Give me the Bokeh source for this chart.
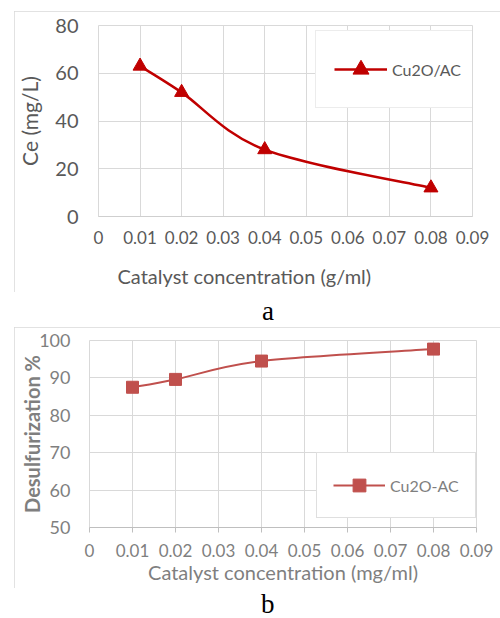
from bokeh.plotting import figure
from bokeh.models import Legend, LegendItem, Div, FixedTicker, Title
from bokeh.embed import file_html
from bokeh.resources import INLINE

# ---- data ----
conc = [0.01, 0.02, 0.04, 0.08]
ce_values = [63, 52, 28, 12]
desulf_values = [87.5, 89.6, 94.5, 97.7]
x_ticks = [0, 0.01, 0.02, 0.03, 0.04, 0.05, 0.06, 0.07, 0.08, 0.09]
x_tick_labels = ["0", "0.01", "0.02", "0.03", "0.04", "0.05", "0.06", "0.07", "0.08", "0.09"]
ce_ticks = [0, 20, 40, 60, 80]
desulf_ticks = [50, 60, 70, 80, 90, 100]


def smooth(xs, ys):
    """Catmull-Rom style cubic Bezier segments through the data points (like Excel's smoothed line)."""
    n = len(xs)
    out = dict(x0=[], y0=[], x1=[], y1=[], cx0=[], cy0=[], cx1=[], cy1=[])
    for i in range(n - 1):
        im = max(i - 1, 0)
        ip = min(i + 2, n - 1)
        out["x0"].append(xs[i]); out["y0"].append(ys[i])
        out["x1"].append(xs[i + 1]); out["y1"].append(ys[i + 1])
        out["cx0"].append(xs[i] + (xs[i + 1] - xs[im]) / 6)
        out["cy0"].append(ys[i] + (ys[i + 1] - ys[im]) / 6)
        out["cx1"].append(xs[i + 1] - (xs[ip] - xs[i]) / 6)
        out["cy1"].append(ys[i + 1] - (ys[ip] - ys[i]) / 6)
    return out


FONT = "Lato"
GRID = "#d9d9d9"
NAN = float("nan")
overrides = {t: l for t, l in zip(x_ticks, x_tick_labels)}

# ---------------- chart a ----------------
p1 = figure(width=486, height=281, x_range=(0, 0.09), y_range=(0, 80),
            output_backend="svg", toolbar_location=None,
            min_border_left=83, min_border_right=28, min_border_top=14, min_border_bottom=76,
            margin=(11, 0, 0, 14), background_fill_color="white", border_fill_color="white")
p1.styles = {"outline": "1px solid #d9d9d9", "outline-offset": "-1px"}
p1.outline_line_color = GRID

p1.xaxis.ticker = FixedTicker(ticks=x_ticks)
p1.xaxis.major_label_overrides = overrides
p1.xgrid.ticker = FixedTicker(ticks=x_ticks)
p1.yaxis.ticker = FixedTicker(ticks=ce_ticks)
p1.ygrid.ticker = FixedTicker(ticks=ce_ticks)
for g in (p1.xgrid, p1.ygrid):
    g.grid_line_color = GRID
    g.grid_line_width = 1

p1.xaxis.axis_line_color = "#cfcfcf"
p1.yaxis.axis_line_color = None
for ax in (p1.xaxis, p1.yaxis):
    ax.major_tick_line_color = None
    ax.major_tick_out = 0
    ax.major_tick_in = 0
    ax.minor_tick_line_color = None
    ax.major_label_text_font = FONT
    ax.major_label_text_color = "#595959"
    ax.axis_label_text_font = FONT
    ax.axis_label_text_color = "#595959"
    ax.axis_label_text_font_style = "normal"
p1.xaxis.major_label_text_font_size = "17px"
p1.yaxis.major_label_text_font_size = "20px"
p1.xaxis.major_label_standoff = 14
p1.yaxis.major_label_standoff = 20
p1.yaxis.axis_label = "Ce (mg/L)"
p1.yaxis.axis_label_text_font_size = "21px"
p1.yaxis.axis_label_standoff = 10
# tiny blank spacer label: pushes the (left-shifted) x title below down a little
p1.xaxis.axis_label = "\u00a0"
p1.xaxis.axis_label_text_font_size = "2px"
p1.xaxis.axis_label_standoff = 8

# x-axis title of chart a sits left of centre in the original
p1.add_layout(Title(text="Catalyst concentration (g/ml)", align="left", offset=19,
                    vertical_align="middle",
                    text_font=FONT, text_font_size="20px",
                    text_font_style="normal", text_color="#595959", standoff=7), "below")

RED1 = "#C00000"
p1.bezier(**smooth(conc, ce_values), line_color=RED1, line_width=2.5)
m1 = p1.scatter(conc, ce_values, marker="triangle", size=14, fill_color=RED1, line_color=RED1)
l1 = p1.line(x=[NAN], y=[NAN], line_color=RED1, line_width=2.5)

leg1 = Legend(items=[LegendItem(label="Cu2O/AC", renderers=[l1, m1])],
              location=(217, 108), padding=18, spacing=0, margin=0,
              glyph_width=53, glyph_height=40, label_height=40, label_standoff=5,
              label_text_font=FONT, label_text_font_size="16px", label_text_color="#595959",
              border_line_color=GRID, border_line_width=1.5,
              background_fill_color="white", background_fill_alpha=1.0)
p1.add_layout(leg1, "center")

div_a = Div(text='<div style="font-family:\'Liberation Serif\';font-size:27px;line-height:35px;'
                 'padding-left:262px;padding-top:2px;color:#000;">a</div>',
            width=500, height=35, margin=(0, 0, 0, 0))

# ---------------- chart b ----------------
p2 = figure(width=486, height=261, x_range=(0, 0.09), y_range=(50, 100),
            output_backend="svg", toolbar_location=None,
            min_border_left=75, min_border_right=24, min_border_top=13, min_border_bottom=61,
            margin=(0, 0, 0, 14), background_fill_color="white", border_fill_color="white")
p2.styles = {"outline": "1px solid #d9d9d9", "outline-offset": "-1px"}
p2.outline_line_color = GRID

p2.xaxis.ticker = FixedTicker(ticks=x_ticks)
p2.xaxis.major_label_overrides = overrides
p2.xgrid.ticker = FixedTicker(ticks=x_ticks)
p2.yaxis.ticker = FixedTicker(ticks=desulf_ticks)
p2.ygrid.ticker = FixedTicker(ticks=desulf_ticks)
for g in (p2.xgrid, p2.ygrid):
    g.grid_line_color = GRID
    g.grid_line_width = 1

p2.xaxis.axis_line_color = "#bfbfbf"
p2.xaxis.major_tick_line_color = "#bfbfbf"
p2.xaxis.major_tick_out = 5
p2.xaxis.major_tick_in = 0
p2.yaxis.axis_line_color = None
p2.yaxis.major_tick_line_color = None
p2.yaxis.major_tick_out = 0
p2.yaxis.major_tick_in = 0
for ax in (p2.xaxis, p2.yaxis):
    ax.minor_tick_line_color = None
    ax.major_label_text_font = FONT
    ax.major_label_text_color = "#7f7f7f"
    ax.axis_label_text_font = FONT
    ax.axis_label_text_color = "#7f7f7f"
p2.xaxis.major_label_text_font_size = "17px"
p2.yaxis.major_label_text_font_size = "18px"
p2.xaxis.major_label_standoff = 11
p2.yaxis.major_label_standoff = 19
p2.xaxis.axis_label = "Catalyst concentration (mg/ml)"
p2.xaxis.axis_label_text_font_style = "normal"
p2.xaxis.axis_label_text_font_size = "20px"
p2.xaxis.axis_label_standoff = 0
p2.yaxis.axis_label = "Desulfurization %"
p2.yaxis.axis_label_text_font_style = "bold"
p2.yaxis.axis_label_text_font_size = "20px"
p2.yaxis.axis_label_standoff = -8

RED2 = "#C0504D"
p2.bezier(**smooth(conc, desulf_values), line_color=RED2, line_width=2)
m2 = p2.scatter(conc, desulf_values, marker="square", size=12, fill_color=RED2, line_color=RED2)
l2 = p2.line(x=[NAN], y=[NAN], line_color=RED2, line_width=2)

leg2 = Legend(items=[LegendItem(label="Cu2O-AC", renderers=[l2, m2])],
              location=(227, 9), padding=16, spacing=0, margin=0,
              glyph_width=52, glyph_height=32, label_height=32, label_standoff=5,
              label_text_font=FONT, label_text_font_size="16px", label_text_color="#7f7f7f",
              border_line_color="#bfbfbf", border_line_width=1.5,
              background_fill_color="white", background_fill_alpha=1.0)
p2.add_layout(leg2, "center")

div_b = Div(text='<div style="font-family:\'Liberation Serif\';font-size:27px;line-height:27px;'
                 'padding-left:261px;padding-top:3px;color:#000;">b</div>',
            width=500, height=30, margin=(0, 0, 0, 0))

# separate roots so the two plot frames are not aligned to each other
open("out.html", "w").write(file_html([p1, div_a, p2, div_b], INLINE))
